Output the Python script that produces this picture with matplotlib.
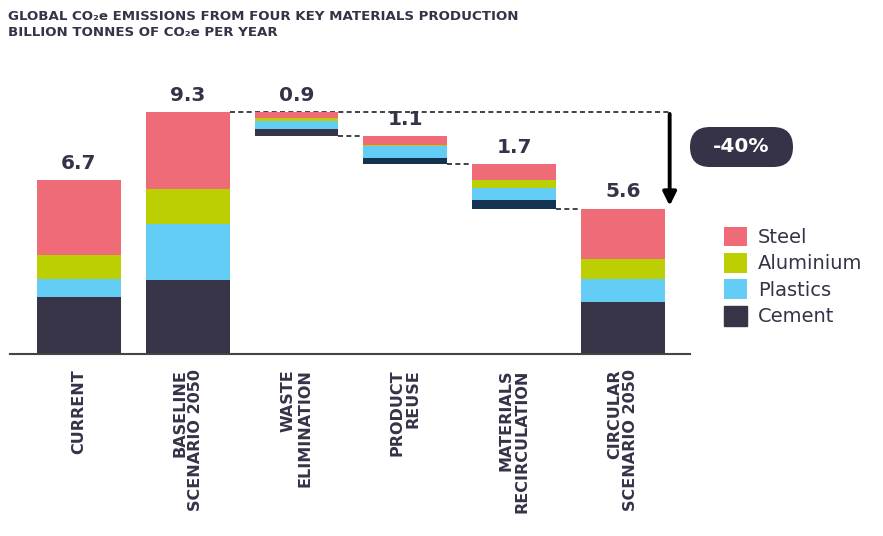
import matplotlib.pyplot as plt
from matplotlib.patches import FancyBboxPatch
import numpy as np

categories = ["CURRENT", "BASELINE\nSCENARIO 2050", "WASTE\nELIMINATION",
              "PRODUCT\nREUSE", "MATERIALS\nRECIRCULATION", "CIRCULAR\nSCENARIO 2050"]
materials = ["Steel", "Aluminium", "Plastics", "Cement"]

# values per bar, stacked from bottom: cement, plastics, aluminium, steel
cement = [2.19, 2.85, 0.27, 0.23, 0.33, 2.00]
plastics = [0.70, 2.15, 0.30, 0.45, 0.47, 0.87]
aluminium = [0.92, 1.35, 0.11, 0.06, 0.30, 0.80]
steel = [2.89, 2.95, 0.22, 0.34, 0.62, 1.93]
labels = ["6.7", "9.3", "0.9", "1.1", "1.7", "5.6"]
reduction = "-40%"

col = {"Steel": "#ee6b77", "Aluminium": "#bccf02", "Plastics": "#64cdf5", "Cement": "#383448"}
dark = "#363247"
navy = "#143350"

plt.rcParams['font.family'] = ['DejaVu Sans']

fig = plt.figure(figsize=(8.83, 5.36), dpi=100)
ax = fig.add_axes([0.0113, 0.3396, 0.770, 0.548])

cement = np.array(cement)
plastics = np.array(plastics)
aluminium = np.array(aluminium)
steel = np.array(steel)
totals = cement + plastics + aluminium + steel

# waterfall bottoms: steps hang below the previous top
bottoms = np.zeros(len(categories))
level = totals[1]
for i in range(2, 5):
    bottoms[i] = level - totals[i]
    level = bottoms[i]

x = np.arange(len(categories))
w = 0.77
cem_colors = [col["Cement"], col["Cement"], col["Cement"], navy, navy, col["Cement"]]
b = bottoms.copy()
ax.bar(x, cement, w, bottom=b, color=cem_colors, label="Cement")
b = b + cement
ax.bar(x, plastics, w, bottom=b, color=col["Plastics"], label="Plastics")
b = b + plastics
ax.bar(x, aluminium, w, bottom=b, color=col["Aluminium"], label="Aluminium")
b = b + aluminium
ax.bar(x, steel, w, bottom=b, color=col["Steel"], label="Steel")
tops = b + steel

for i in range(len(categories)):
    ax.text(x[i], tops[i] + 0.28, labels[i], ha="center", va="bottom",
            fontsize=14.5, fontweight="bold", color=dark)

# dashed connectors
arrow_x = 5.43
ax.plot([x[1] + w / 2, arrow_x], [tops[1], tops[1]], ls=(0, (3, 2)), color="#222222", lw=1.2, zorder=0)
for i in range(2, 5):
    ax.plot([x[i] + w / 2, x[i + 1] - w / 2], [bottoms[i], bottoms[i]],
            ls=(0, (3, 2)), color="#222222", lw=1.2, zorder=0)

ax.annotate("", xy=(arrow_x, tops[5]), xytext=(arrow_x, tops[1] + 0.05),
            arrowprops=dict(arrowstyle="-|>,head_width=0.4,head_length=0.8",
                            color="black", lw=2.8))

# -40% pill
pill = FancyBboxPatch((6.90, 3.69), 1.03, 0.40, boxstyle="round,pad=0,rounding_size=0.2",
                      transform=fig.dpi_scale_trans, fc=dark, ec="none")
fig.patches.append(pill)
fig.text(7.415, 3.89, reduction, transform=fig.dpi_scale_trans, ha="center", va="center",
         fontsize=14.5, fontweight="bold", color="white")

ax.set_xlim(-0.634, 5.616)
ax.set_ylim(0, 11.31)
ax.set_xticks(x)
ax.set_xticklabels(categories, rotation=90, fontsize=11.5, fontweight="bold",
                   color=dark, va="top", ha="center", multialignment="right",
                   linespacing=1.1)
ax.tick_params(axis="x", length=0, pad=11)
ax.set_yticks([])
for s in ["top", "right", "left"]:
    ax.spines[s].set_visible(False)
ax.spines["bottom"].set_color("#444444")
ax.spines["bottom"].set_linewidth(1.5)

handles, leg_labels = ax.get_legend_handles_labels()
order = [3, 2, 1, 0]
leg = fig.legend([handles[k] for k in order], [leg_labels[k] for k in order],
                 loc="upper left", bbox_to_anchor=(0.8, 0.61), frameon=False,
                 fontsize=14, handlelength=1.2, handleheight=1.2,
                 labelspacing=0.3, handletextpad=0.55, labelcolor=dark)
leg.legend_handles[3].set_color(col["Cement"])

fig.text(0.009, 0.982, "GLOBAL CO\u2082e EMISSIONS FROM FOUR KEY MATERIALS PRODUCTION",
         fontsize=9.6, fontweight="bold", color=dark, va="top")
fig.text(0.009, 0.952, "BILLION TONNES OF CO\u2082e PER YEAR",
         fontsize=9.6, fontweight="bold", color=dark, va="top")

fig.savefig("out.png", dpi=100)
